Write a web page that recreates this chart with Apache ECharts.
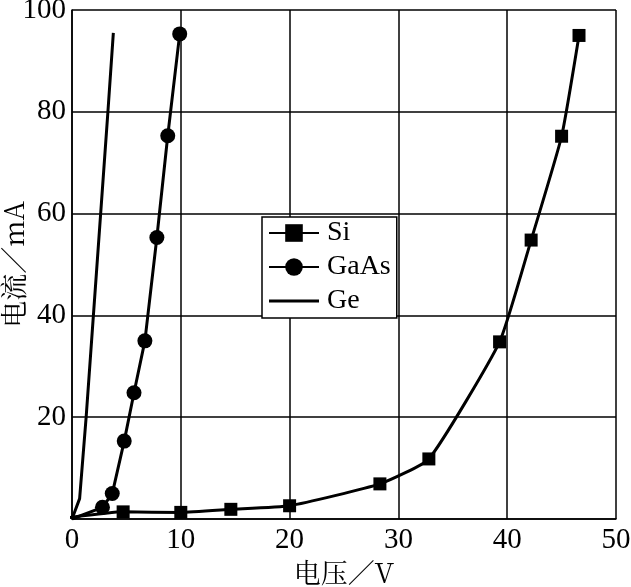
<!DOCTYPE html>
<html><head><meta charset="utf-8">
<script src="https://cdn.jsdelivr.net/npm/echarts@6/dist/echarts.min.js"></script>
<style>html,body{margin:0;padding:0;background:#fff}#c{width:631px;height:587px}</style>
</head><body><div id="c"></div>
<script>
const siX = [-0.2, 4.7, 10, 14.6, 20, 28.3, 32.8, 39.3, 42.2, 45, 46.6];
const siY = [0.3, 1.4, 1.3, 1.9, 2.6, 6.9, 11.8, 34.8, 54.8, 75.2, 95];
const gaasX = [0, 2.8, 3.7, 4.8, 5.7, 6.7, 7.8, 8.8, 9.9];
const gaasY = [0, 2.3, 5, 15.3, 24.8, 35, 55.3, 75.3, 95.3];
const geX = [0, 0.7, 1.3, 3.3, 3.8];
const geY = [0, 4, 20, 80, 95.5];
const xTicks = [0, 10, 20, 30, 40, 50];
const yTicks = [20, 40, 60, 80, 100];

const font = "'Liberation Serif', 'Noto Sans CJK SC', serif";
const cjkFont = "'Noto Serif CJK SC', 'Noto Sans CJK SC', 'Liberation Serif', serif";
const zip = (a, b) => a.map((v, i) => [v, b[i]]);
const gaasData = zip(gaasX, gaasY).map((p, i) => i === 0 ? {value: p, symbol: 'none'} : p);
const chart = echarts.init(document.getElementById('c'), null, {renderer: 'canvas'});
chart.setOption({
  animation: false,
  backgroundColor: '#fff',
  grid: {left: 72, top: 10, right: 15, bottom: 68, containLabel: false, outerBoundsMode: 'none'},
  xAxis: {
    type: 'value', min: 0, max: 50, interval: 10,
    name: '电压／V', nameLocation: 'middle', nameGap: 40, nameMoveOverlap: false,
    nameTextStyle: {color: '#000', fontSize: 27, fontFamily: cjkFont},
    axisLine: {lineStyle: {color: '#000', width: 1.5}},
    axisTick: {show: false},
    axisLabel: {color: '#000', fontSize: 29, fontFamily: font, margin: 7,
      formatter: v => xTicks.includes(v) ? String(v) : ''},
    splitLine: {lineStyle: {color: '#000', width: 1.5}}
  },
  yAxis: {
    type: 'value', min: 0, max: 100, interval: 20,
    name: '电流／mA', nameLocation: 'middle', nameGap: 45, nameRotate: 90, nameMoveOverlap: false,
    nameTextStyle: {color: '#000', fontSize: 27, fontFamily: cjkFont},
    axisLine: {show: true, lineStyle: {color: '#000', width: 1.5}},
    axisTick: {show: false},
    axisLabel: {color: '#000', fontSize: 29, fontFamily: font, margin: 6,
      formatter: v => yTicks.includes(v) ? String(v) : ''},
    splitLine: {lineStyle: {color: '#000', width: 1.5}}
  },
  legend: {
    orient: 'vertical', left: 262, top: 217,
    backgroundColor: '#fff', borderColor: '#000', borderWidth: 1.5,
    padding: [2, 6, 3, 6], itemGap: 6, itemWidth: 50, itemHeight: 22,
    textStyle: {color: '#000', fontSize: 28, fontFamily: font, lineHeight: 28, padding: [0, 0, 0, 3]},
    data: [
      {name: 'Si'},
      {name: 'GaAs'},
      {name: 'Ge', icon: 'path://M0,0 M0,22 M0,9.5 L50,9.5 L50,12.5 L0,12.5 Z', itemStyle: {color: '#000'}}
    ]
  },
  series: [
    {name: 'Si', type: 'line', data: zip(siX, siY), smooth: 0.15,
     symbol: 'rect', symbolSize: 13, showAllSymbol: true,
     lineStyle: {color: '#000', width: 3}, itemStyle: {color: '#000'}},
    {name: 'GaAs', type: 'line', data: gaasData, smooth: false,
     symbol: 'circle', symbolSize: 15, showAllSymbol: true,
     lineStyle: {color: '#000', width: 3}, itemStyle: {color: '#000'}},
    {name: 'Ge', type: 'line', data: zip(geX, geY), smooth: false,
     symbol: 'none', showSymbol: false,
     lineStyle: {color: '#000', width: 3}, itemStyle: {color: '#000'}}
  ]
});
</script></body></html>
